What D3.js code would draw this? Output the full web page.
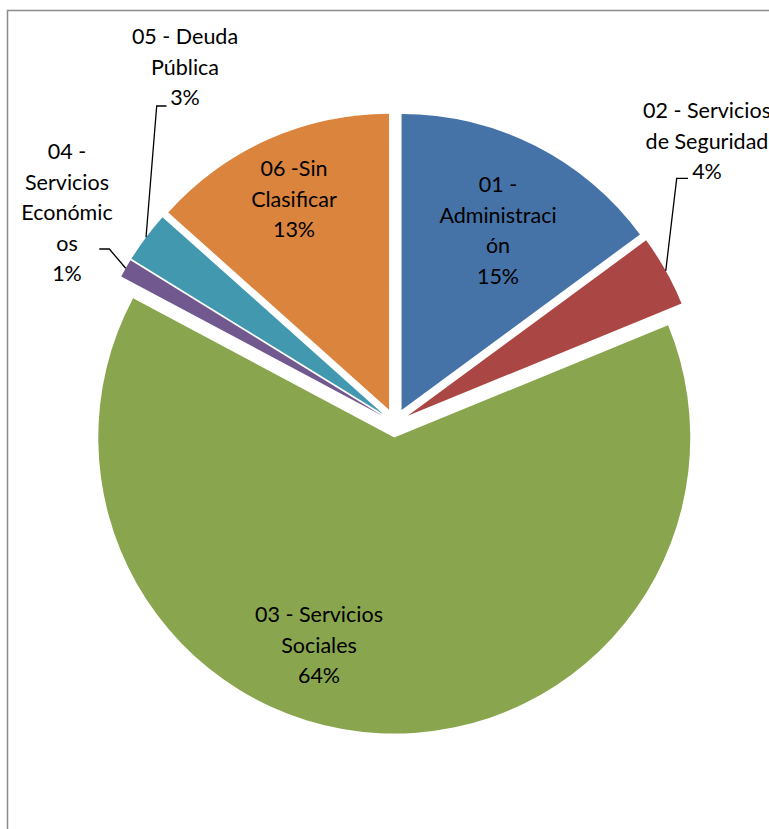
<!DOCTYPE html>
<html>
<head>
<meta charset="utf-8">
<script src="https://cdn.jsdelivr.net/npm/d3@7"></script>
<style>
    body { margin: 0; background: #fff; overflow: hidden; }
    text { font-family: Lato, "Open Sans", sans-serif; fill: #000; }
</style>
</head>
<body>
<div id="chart"></div>
<script>
// datos del grafico
let categories = ["01 - Administración", "02 - Servicios de Seguridad", "03 - Servicios Sociales",
    "04 - Servicios Económicos", "05 - Deuda Pública", "06 -Sin Clasificar"];
let values = [14.9, 3.9, 64.0, 1.0, 2.8, 13.4];
// lineas de las etiquetas tal como salen en la imagen
let labelLines = [
    ["01 -", "Administraci", "ón"],
    ["02 - Servicios", "de Seguridad"],
    ["03 - Servicios", "Sociales"],
    ["04 -", "Servicios", "Económic", "os"],
    ["05 - Deuda", "Pública"],
    ["06 -Sin", "Clasificar"]
];
let colors = ["#4572A7", "#AA4643", "#89A54E", "#71588F", "#4198AF", "#DB843D"];

let width = 769, height = 829;
let cx = 395, cy = 423, radius = 296, explode = 14.6;
let fontSize = 21.5, lineStep = 30.5;

// posicion de cada bloque de etiqueta (centro x, centro de la primera linea)
let labelPos = [[498, 185], [707, 110.7], [319, 615], [67, 152], [185, 37], [294, 169]];
// codos de las lineas guia (solo etiquetas de fuera)
let leaders = {1: {elbow: [676.7, 178.3], end: [688, 178.3]},
               3: {elbow: [109.3, 249], end: [99.3, 249]},
               4: {elbow: [156.7, 106], end: [166.5, 106]}};

let svg = d3.select("#chart").append("svg")
    .attr("width", width)
    .attr("height", height);

// marco del area del grafico
svg.append("path")
    .attr("d", "M7.5," + height + " L7.5,10.5 L" + width + ",10.5")
    .attr("fill", "none")
    .attr("stroke", "#8c8c8c")
    .attr("stroke-width", 1.5);

let pie = d3.pie().sort(null).value(d => d);
let arcs = pie(values);
let arc = d3.arc().innerRadius(0).outerRadius(radius);

function offsetOf(a) {
    let mid = (a.startAngle + a.endAngle) / 2;
    return [explode * Math.sin(mid), -explode * Math.cos(mid)];
}

let g = svg.append("g").attr("transform", "translate(" + cx + "," + cy + ")");

g.selectAll("path.slice")
    .data(arcs)
    .enter().append("path")
    .attr("class", "slice")
    .attr("d", arc)
    .attr("fill", (d, i) => colors[i])
    .attr("transform", d => {
        let o = offsetOf(d);
        return "translate(" + o[0] + "," + o[1] + ")";
    });

// lineas guia
Object.keys(leaders).forEach(k => {
    let a = arcs[k];
    let o = offsetOf(a);
    let mid = (a.startAngle + a.endAngle) / 2;
    let px = cx + o[0] + radius * Math.sin(mid);
    let py = cy + o[1] - radius * Math.cos(mid);
    let l = leaders[k];
    svg.append("path")
        .attr("d", "M" + l.end[0] + "," + l.end[1] + " L" + l.elbow[0] + "," + l.elbow[1] + " L" + px + "," + py)
        .attr("fill", "none")
        .attr("stroke", "#000")
        .attr("stroke-width", 1.3);
});

// etiquetas
let total = d3.sum(values);
arcs.forEach((a, i) => {
    let lines = labelLines[i].concat([Math.round(values[i] / total * 100) + "%"]);
    let t = svg.append("text")
        .attr("text-anchor", "middle")
        .attr("font-size", fontSize);
    lines.forEach((s, j) => {
        t.append("tspan")
            .attr("x", labelPos[i][0])
            .attr("y", labelPos[i][1] + j * lineStep + fontSize * 0.34)
            .text(s);
    });
});
</script>
</body>
</html>
